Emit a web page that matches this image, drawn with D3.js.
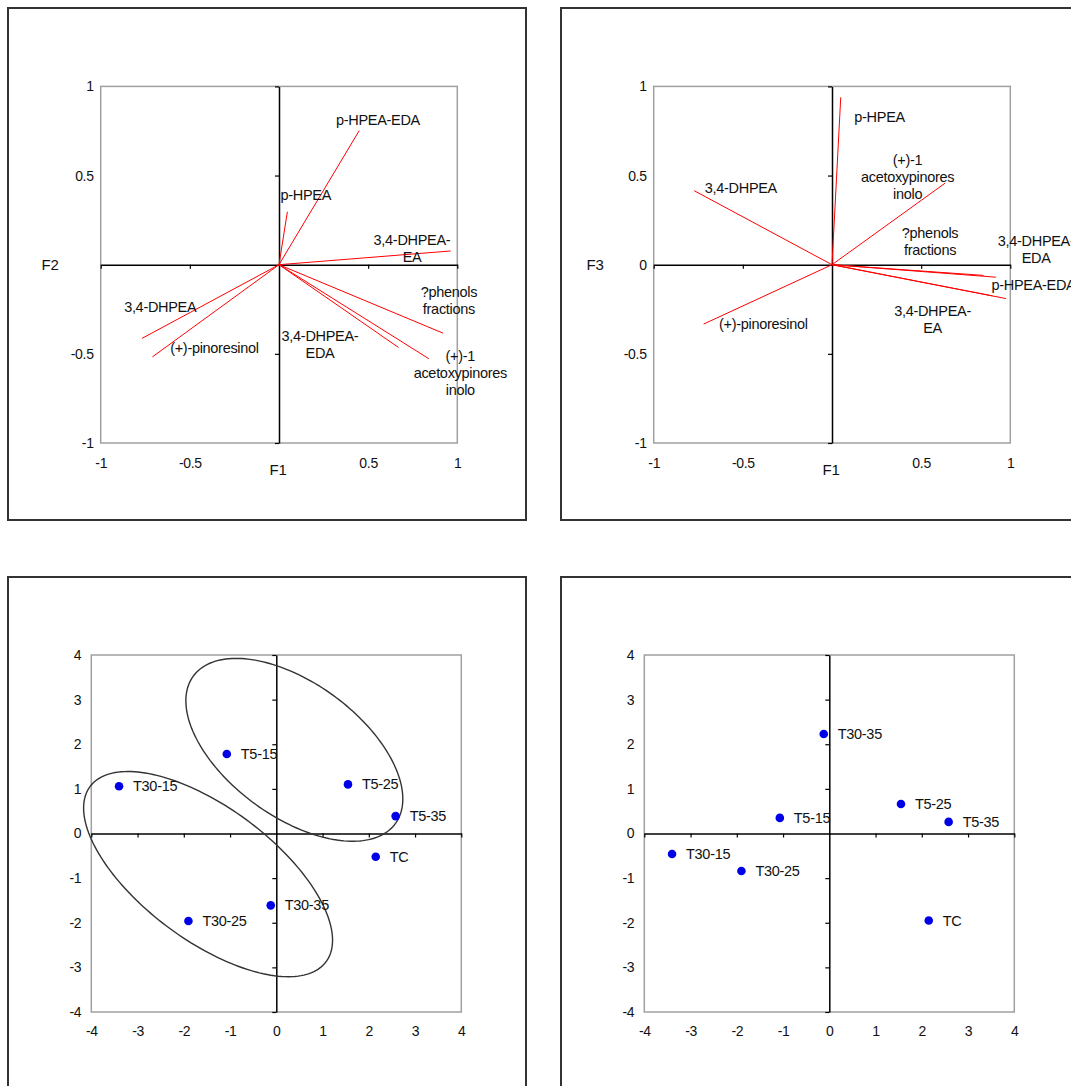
<!DOCTYPE html>
<html>
<head>
<meta charset="utf-8">
<script src="https://cdn.jsdelivr.net/npm/d3@7"></script>
<style>
  body { margin: 0; background: #fff; }
  svg text { font-family: "Liberation Sans", Arial, sans-serif; fill: #111; letter-spacing: -0.3px; }
</style>
</head>
<body>
<div id="chart"></div>
<script>
// variables (loadings)
var varNames = ["3,4-DHPEA", "p-HPEA", "(+)-pinoresinol", "(+)-1-acetoxypinoresinolo",
                "3,4-DHPEA-EDA", "p-HPEA-EDA", "3,4-DHPEA-EA", "?phenols fractions"];
var varLines = [["3,4-DHPEA"], ["p-HPEA"], ["(+)-pinoresinol"], ["(+)-1", "acetoxypinores", "inolo"],
                ["3,4-DHPEA-", "EDA"], ["p-HPEA-EDA"], ["3,4-DHPEA-", "EA"], ["?phenols", "fractions"]];

// F1-F2 loadings
var loadF1a = [-0.768, 0.047, -0.71, 0.84, 0.67, 0.45, 0.963, 0.92];
var loadF2  = [-0.413, 0.297, -0.517, -0.527, -0.464, 0.752, 0.077, -0.384];
// F1-F3 loadings
var loadF1b = [-0.773, 0.049, -0.72, 0.634, 0.919, 0.976, 0.90, 0.85];
var loadF3  = [0.415, 0.939, -0.333, 0.457, -0.07, -0.19, -0.175, -0.06];

// where the variable labels sit (data units, first line centre)
var labF1a = [-0.666, 0.15, -0.362, 1.017, 0.23, 0.555, 0.746, 0.953];
var labF2  = [-0.239, 0.39, -0.467, -0.512, -0.402, 0.81, 0.139, -0.152];
var labF1b = [-0.511, 0.267, -0.385, 0.424, 1.145, 1.13, 0.564, 0.55];
var labF3  = [0.428, 0.83, -0.33, 0.59, 0.131, -0.112, -0.258, 0.178];

// samples (scores)
var sampleNames = ["T5-15", "T5-25", "T5-35", "T30-15", "T30-25", "T30-35", "TC"];
var scoreF1 = [-1.07, 1.55, 2.58, -3.40, -1.90, -0.12, 2.15];
var scoreF2 = [1.78, 1.10, 0.39, 1.06, -1.96, -1.61, -0.52];
var scoreF3 = [0.35, 0.66, 0.26, -0.46, -0.84, 2.23, -1.95];

// group ellipses on F1-F2 (centre, semi axes, angle in degrees)
var ellCx = [0.39, -1.475];
var ellCy = [1.875, -0.91];
var ellA = [2.74, 3.22];
var ellB = [1.48, 1.47];
var ellAngle = [-37.9, -38.1];

var loadTicks = [-1, -0.5, 0, 0.5, 1];
var scoreTicks = [-4, -3, -2, -1, 0, 1, 2, 3, 4];

// plain hyphen for negatives, like the original
var fmt = function(d) { return String(d); };

var svg = d3.select("#chart").append("svg")
    .attr("width", 1071)
    .attr("height", 1086);

function panelBox(bx, by) {
    svg.append("rect")
        .attr("x", bx).attr("y", by)
        .attr("width", 518).attr("height", 512)
        .attr("fill", "none")
        .attr("stroke", "#333")
        .attr("stroke-width", 2);
}

function frame(g, x, y, ticks, xLabTicks, yLabTicks, pad) {
    var x0 = x.range()[0], x1 = x.range()[1];
    var y0 = y.range()[1], y1 = y.range()[0];

    g.append("rect")
        .attr("x", x0).attr("y", y0)
        .attr("width", x1 - x0).attr("height", y1 - y0)
        .attr("fill", "none")
        .attr("stroke", "#a0a0a0")
        .attr("stroke-width", 1.5);

    // labels along the plot edges
    var bx = g.append("g").attr("transform", "translate(0," + y1 + ")")
        .call(d3.axisBottom(x).tickValues(xLabTicks).tickSize(0).tickPadding(pad[0]).tickFormat(fmt));
    var ly = g.append("g").attr("transform", "translate(" + x0 + ",0)")
        .call(d3.axisLeft(y).tickValues(yLabTicks).tickSize(0).tickPadding(pad[1]).tickFormat(fmt));
    bx.select(".domain").remove();
    ly.select(".domain").remove();
    g.selectAll(".tick text").attr("font-size", 14).attr("font-family", null);

    // the zero axes with tick marks
    var zx = g.append("g").attr("transform", "translate(0," + y(0) + ")")
        .call(d3.axisBottom(x).tickValues(ticks.filter(function(t) { return t != 0; }))
            .tickSize(4).tickSizeOuter(0).tickFormat(""));
    var zy = g.append("g").attr("transform", "translate(" + x(0) + ",0)")
        .call(d3.axisLeft(y).tickValues(ticks.filter(function(t) { return t != 0; }))
            .tickSize(4).tickSizeOuter(0).tickFormat(""));
    g.selectAll(".domain").attr("stroke", "#000").attr("stroke-width", 1.5);
    zx.selectAll(".tick line").attr("stroke", "#000").attr("stroke-width", 1.2);
    zy.selectAll(".tick line").attr("stroke", "#000").attr("stroke-width", 1.2);
}

function drawLoadings(bx, by, lx, ly, labx, laby, yTitle, titleX, showZero) {
    var g = svg.append("g");
    var left = bx + 92.7, top = by + 78.4, size = 356.6;
    var x = d3.scaleLinear().domain([-1, 1]).range([left, left + size]);
    var y = d3.scaleLinear().domain([-1, 1]).range([top + size, top]);

    var yLab = showZero ? loadTicks : loadTicks.filter(function(t) { return t != 0; });
    frame(g, x, y, loadTicks, loadTicks.filter(function(t) { return t != 0; }), yLab, [15, 7]);

    g.append("text").attr("x", x(0) - 1).attr("y", top + size + 27)
        .attr("text-anchor", "middle").attr("dy", "0.35em").attr("font-size", 15).text("F1");
    g.append("text").attr("x", bx + titleX).attr("y", y(0))
        .attr("text-anchor", "middle").attr("dy", "0.35em").attr("font-size", 15).text(yTitle);

    g.selectAll("line.vec")
        .data(varNames)
        .enter()
        .append("line")
        .attr("class", "vec")
        .attr("x1", x(0)).attr("y1", y(0))
        .attr("x2", function(d, i) { return x(lx[i]); })
        .attr("y2", function(d, i) { return y(ly[i]); })
        .attr("stroke", "#ff0000")
        .attr("stroke-width", 1);

    var lab = g.selectAll("text.vlab")
        .data(varNames)
        .enter()
        .append("text")
        .attr("class", "vlab")
        .attr("text-anchor", "middle")
        .attr("font-size", 14.5);
    lab.each(function(d, i) {
        var t = d3.select(this);
        varLines[i].forEach(function(s, k) {
            t.append("tspan")
                .attr("x", x(labx[i]))
                .attr("y", y(laby[i]) + k * 17)
                .attr("dy", "0.35em")
                .text(s);
        });
    });
}

function drawScores(bx, by, sx, sy, withEllipses) {
    var g = svg.append("g");
    var left = bx + 83.3, top = by + 78, w = 370, h = 357;
    var x = d3.scaleLinear().domain([-4, 4]).range([left, left + w]);
    var y = d3.scaleLinear().domain([-4, 4]).range([top + h, top]);

    frame(g, x, y, scoreTicks, scoreTicks, scoreTicks, [14, 10]);

    if (withEllipses) {
        var line = d3.line().curve(d3.curveLinearClosed);
        for (var e = 0; e < ellCx.length; e++) {
            var a = ellAngle[e] * Math.PI / 180;
            var pts = d3.range(0, 2 * Math.PI, Math.PI / 90).map(function(t) {
                var u = ellA[e] * Math.cos(t), v = ellB[e] * Math.sin(t);
                return [x(ellCx[e] + u * Math.cos(a) - v * Math.sin(a)),
                        y(ellCy[e] + u * Math.sin(a) + v * Math.cos(a))];
            });
            g.append("path")
                .attr("d", line(pts))
                .attr("fill", "none")
                .attr("stroke", "#333")
                .attr("stroke-width", 1.4);
        }
    }

    g.selectAll("circle")
        .data(sampleNames)
        .enter()
        .append("circle")
        .attr("cx", function(d, i) { return x(sx[i]); })
        .attr("cy", function(d, i) { return y(sy[i]); })
        .attr("r", 4.3)
        .attr("fill", "#0000e6");

    g.selectAll("text.slab")
        .data(sampleNames)
        .enter()
        .append("text")
        .attr("class", "slab")
        .attr("x", function(d, i) { return x(sx[i]) + 14; })
        .attr("y", function(d, i) { return y(sy[i]); })
        .attr("dy", "0.35em")
        .attr("font-size", 14.5)
        .text(function(d) { return d; });
}

panelBox(8, 8);
panelBox(561, 8);
panelBox(8, 577);
panelBox(561, 577);

drawLoadings(8, 8, loadF1a, loadF2, labF1a, labF2, "F2", 42, false);
drawLoadings(561, 8, loadF1b, loadF3, labF1b, labF3, "F3", 34, true);
drawScores(8, 577, scoreF1, scoreF2, true);
drawScores(561, 577, scoreF1, scoreF3, false);
</script>
</body>
</html>
